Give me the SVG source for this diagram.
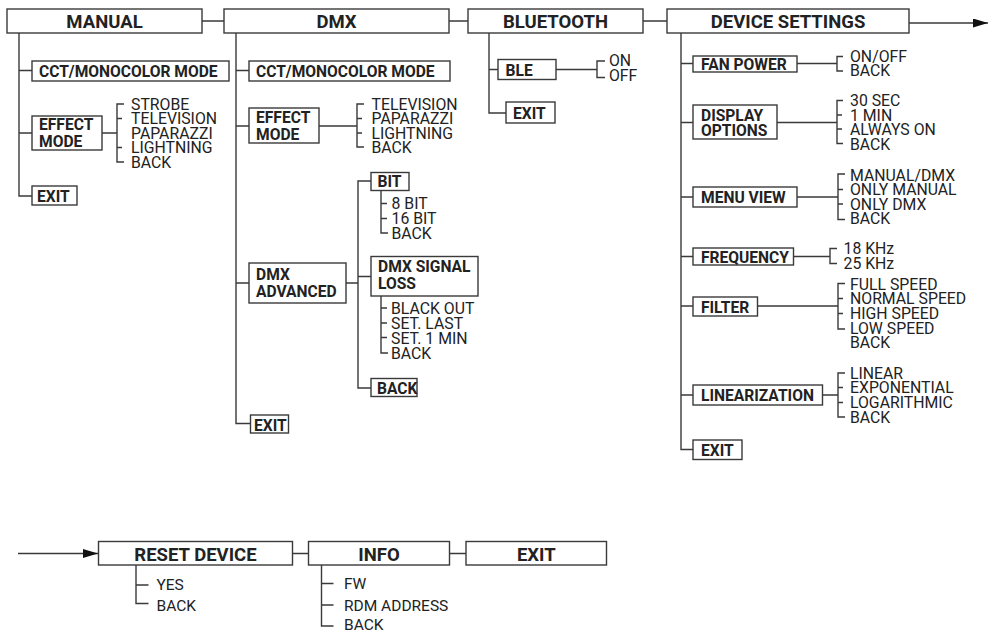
<svg xmlns="http://www.w3.org/2000/svg" width="994" height="633" viewBox="0 0 994 633">
<style>
.box{fill:#fff;stroke:#3a3a3a;stroke-width:1.4}
.ln{fill:none;stroke:#3a3a3a;stroke-width:1.4}
.top{font-family:Roboto,"Liberation Sans",sans-serif;font-weight:bold;font-size:18.5px;fill:#222;text-anchor:middle}
.sub{font-family:Roboto,"Liberation Sans",sans-serif;font-weight:bold;font-size:15.6px;fill:#222}
.it{font-family:Roboto,"Liberation Sans",sans-serif;font-size:15.8px;fill:#222}
.it2{font-family:Roboto,"Liberation Sans",sans-serif;font-size:15.5px;fill:#222}
</style>
<defs>
<marker id="arr" markerUnits="userSpaceOnUse" markerWidth="16" markerHeight="10" refX="15" refY="4.5" orient="auto">
<path d="M0,0 L15,4.5 L0,9 Z" fill="#111"/>
</marker>
</defs>
<rect width="994" height="633" fill="#fff"/>
<g id="connectors">
<path class="ln" d="M202 21 H224 M449 21 H468 M643 21 H667"/>
<path class="ln" d="M909 23 H988" marker-end="url(#arr)"/>
<path class="ln" d="M18 553.5 H98" marker-end="url(#arr)"/>
<path class="ln" d="M19 33 V196 H32 M19 70.5 H32 M19 133 H32 M102 133 H117"/>
<path class="ln" d="M124 104 H117 V162 H124 M117 118.5 H122 M117 147.5 H122"/>
<path class="ln" d="M236 33 V423.5 H250.5 M236 70.5 H249 M236 126 H249 M319 126 H357 M236 283 H249 M346 283 H358"/>
<path class="ln" d="M364 104 H357 V147 H364 M357 118.5 H362 M357 133 H362"/>
<path class="ln" d="M371 181 H358 V388 H371 M358 276.5 H371"/>
<path class="ln" d="M381 190.5 V233 H388 M381 203.5 H387 M381 218.5 H387"/>
<path class="ln" d="M381 296 V353 H388 M381 308 H387 M381 323 H387 M381 337.5 H387"/>
<path class="ln" d="M489 33 V113 H506 M489 69.5 H498 M556 69.5 H597"/>
<path class="ln" d="M605 61 H597 V77.5 H605"/>
<path class="ln" d="M681 33 V449.5 H693 M681 63.5 H693 M681 122.5 H693 M681 197 H693 M681 256.5 H693 M681 306 H693 M681 395 H693"/>
<path class="ln" d="M797 63.5 H837 M843 56.5 H837 V71 H843"/>
<path class="ln" d="M777 122.5 H837 M843 100.5 H837 V143.5 H843 M837 115 H842 M837 129 H842"/>
<path class="ln" d="M797 197 H838 M845 174 H838 V219.5 H845 M838 189.5 H843 M838 204 H843"/>
<path class="ln" d="M793.5 256.5 H830 M837 248.5 H830 V263.5 H837"/>
<path class="ln" d="M757.5 306 H838 M845 283.5 H838 V329 H845 M838 298.5 H843 M838 313.5 H843"/>
<path class="ln" d="M822.5 395 H838 M845 373 H838 V417 H845 M838 387.5 H843 M838 402.5 H843"/>
<path class="ln" d="M292.5 553.5 H308.5 M449.5 553.5 H466"/>
<path class="ln" d="M136 565 V603.5 H148.5 M136 585 H148.5"/>
<path class="ln" d="M321.5 565 V626 H333.5 M321.5 583.5 H333.5 M321.5 605 H333.5"/>
</g>
<g id="manual"><rect class="box" x="7" y="9" width="195" height="24"/><text class="top" x="104.5" y="27.5">MANUAL</text></g>
<g id="manual-cct"><rect class="box" x="32" y="61" width="197" height="20"/><text class="sub" x="39" y="77">CCT/MONOCOLOR MODE</text></g>
<g id="manual-effect"><rect class="box" x="32" y="116" width="70" height="34"/><text class="sub" x="39" y="130">EFFECT</text><text class="sub" x="39" y="147">MODE</text></g>
<g id="manual-effect-options" class="it"><text x="131" y="109.5">STROBE</text><text x="131" y="124">TELEVISION</text><text x="131" y="138.5">PAPARAZZI</text><text x="131" y="153">LIGHTNING</text><text x="131" y="167.5">BACK</text></g>
<g id="manual-exit"><rect class="box" x="32" y="186" width="45" height="19"/><text class="sub" x="37" y="201.5">EXIT</text></g>

<g id="dmx"><rect class="box" x="224" y="9" width="225" height="24"/><text class="top" x="336.5" y="27.5">DMX</text></g>
<g id="dmx-cct"><rect class="box" x="249" y="61" width="201" height="20"/><text class="sub" x="256" y="77">CCT/MONOCOLOR MODE</text></g>
<g id="dmx-effect"><rect class="box" x="249" y="108" width="70" height="35"/><text class="sub" x="256" y="123">EFFECT</text><text class="sub" x="256" y="140">MODE</text></g>
<g id="dmx-effect-options" class="it"><text x="371.5" y="109.5">TELEVISION</text><text x="371.5" y="124">PAPARAZZI</text><text x="371.5" y="138.5">LIGHTNING</text><text x="371.5" y="153">BACK</text></g>
<g id="dmx-advanced"><rect class="box" x="249" y="263" width="97" height="40"/><text class="sub" x="256" y="280">DMX</text><text class="sub" x="256" y="296.5">ADVANCED</text></g>
<g id="dmx-bit"><rect class="box" x="371" y="172.5" width="38" height="18"/><text class="sub" x="377.5" y="187">BIT</text></g>
<g id="dmx-bit-options" class="it"><text x="391.5" y="209">8 BIT</text><text x="391.5" y="224">16 BIT</text><text x="391.5" y="239">BACK</text></g>
<g id="dmx-signal-loss"><rect class="box" x="371" y="256.5" width="107" height="39.5"/><text class="sub" x="378" y="272">DMX SIGNAL</text><text class="sub" x="378" y="288.5">LOSS</text></g>
<g id="dmx-signal-loss-options" class="it"><text x="391" y="314">BLACK OUT</text><text x="391" y="329">SET. LAST</text><text x="391" y="344">SET. 1 MIN</text><text x="391" y="358.5">BACK</text></g>
<g id="dmx-advanced-back"><rect class="box" x="371" y="378.5" width="46" height="18"/><text class="sub" x="377" y="393.5">BACK</text></g>
<g id="dmx-exit"><rect class="box" x="250.5" y="415" width="38" height="18"/><text class="sub" x="254" y="430.5">EXIT</text></g>

<g id="bluetooth"><rect class="box" x="468" y="9" width="175" height="24"/><text class="top" x="555.5" y="27.5">BLUETOOTH</text></g>
<g id="ble"><rect class="box" x="498" y="59.5" width="58" height="20"/><text class="sub" x="505.5" y="75.5">BLE</text></g>
<g id="ble-options" class="it"><text x="609" y="66">ON</text><text x="609" y="81">OFF</text></g>
<g id="bluetooth-exit"><rect class="box" x="506" y="102" width="49" height="21"/><text class="sub" x="513" y="118.5">EXIT</text></g>

<g id="device-settings"><rect class="box" x="667" y="9" width="242" height="24"/><text class="top" x="788" y="27.5">DEVICE SETTINGS</text></g>
<g id="fan-power"><rect class="box" x="693" y="56" width="104" height="16"/><text class="sub" x="701" y="69.5">FAN POWER</text></g>
<g id="fan-power-options" class="it"><text x="850" y="61.5">ON/OFF</text><text x="850" y="75.5">BACK</text></g>
<g id="display-options"><rect class="box" x="693" y="105" width="84" height="34"/><text class="sub" x="701" y="120.5">DISPLAY</text><text class="sub" x="701" y="136">OPTIONS</text></g>
<g id="display-options-values" class="it"><text x="850" y="106">30 SEC</text><text x="850" y="120.5">1 MIN</text><text x="850" y="135">ALWAYS ON</text><text x="850" y="149.5">BACK</text></g>
<g id="menu-view"><rect class="box" x="693" y="187" width="104" height="20"/><text class="sub" x="701" y="202.5">MENU VIEW</text></g>
<g id="menu-view-options" class="it"><text x="850" y="180.5">MANUAL/DMX</text><text x="850" y="195">ONLY MANUAL</text><text x="850" y="209.5">ONLY DMX</text><text x="850" y="224">BACK</text></g>
<g id="frequency"><rect class="box" x="693" y="248" width="100.5" height="17"/><text class="sub" x="701" y="262.5">FREQUENCY</text></g>
<g id="frequency-options" class="it"><text x="843.5" y="253.5">18 KHz</text><text x="843.5" y="268.5">25 KHz</text></g>
<g id="filter"><rect class="box" x="693" y="297" width="64.5" height="19"/><text class="sub" x="701" y="312.5">FILTER</text></g>
<g id="filter-options" class="it"><text x="850" y="289.5">FULL SPEED</text><text x="850" y="304">NORMAL SPEED</text><text x="850" y="318.5">HIGH SPEED</text><text x="850" y="333.5">LOW SPEED</text><text x="850" y="348">BACK</text></g>
<g id="linearization"><rect class="box" x="693" y="385" width="129.5" height="20"/><text class="sub" x="701" y="400.5">LINEARIZATION</text></g>
<g id="linearization-options" class="it"><text x="850" y="378.5">LINEAR</text><text x="850" y="393">EXPONENTIAL</text><text x="850" y="408">LOGARITHMIC</text><text x="850" y="422.5">BACK</text></g>
<g id="device-settings-exit"><rect class="box" x="693" y="440" width="49" height="19.5"/><text class="sub" x="701" y="456">EXIT</text></g>

<g id="reset-device"><rect class="box" x="98.5" y="541.5" width="194" height="23.5"/><text class="top" x="195.5" y="560.5">RESET DEVICE</text></g>
<g id="reset-device-options" class="it2"><text x="156.5" y="589.5">YES</text><text x="156.5" y="610.5">BACK</text></g>
<g id="info"><rect class="box" x="308.5" y="541.5" width="141" height="23.5"/><text class="top" x="379" y="560.5">INFO</text></g>
<g id="info-options" class="it2"><text x="344" y="589">FW</text><text x="344" y="610.5">RDM ADDRESS</text><text x="344" y="630">BACK</text></g>
<g id="exit"><rect class="box" x="466" y="541.5" width="140.5" height="23.5"/><text class="top" x="536.3" y="560.5">EXIT</text></g>
</svg>
